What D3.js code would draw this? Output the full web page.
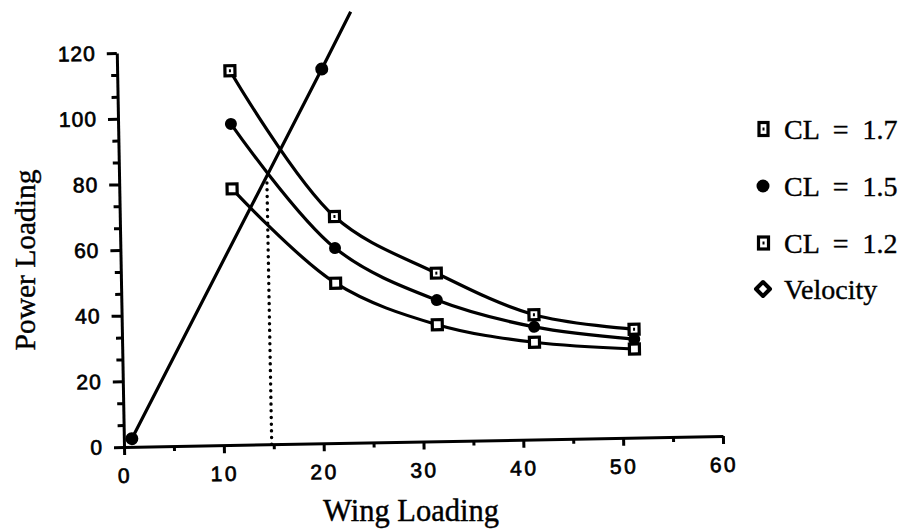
<!DOCTYPE html>
<html>
<head>
<meta charset="utf-8">
<script src="https://cdn.jsdelivr.net/npm/d3@7"></script>
<style>
  html, body { margin: 0; padding: 0; background: #fff; }
  svg { display: block; }
</style>
</head>
<body>
<svg id="chart" width="917" height="531"></svg>
<script>
// ---- data ----
const wingLoading = [11.3, 21.5, 31.6, 41.3, 51.3];
const cl17 = [114, 69, 51.2, 38, 33];
const cl15 = [97.8, 59.4, 43, 34.3, 30];
const cl12 = [78, 48.7, 35.5, 29.6, 27];
const velocityX = [0.8, 20.5, 23.5];
const velocityY = [2.5, 114, 131.3];
const dropX = 14.8;      // dotted guide: wing loading
const dropY = 80.5;      // dotted guide: top (intersection)
const xTicks = [0, 10, 20, 30, 40, 50, 60];
const yTicks = [0, 20, 40, 60, 80, 100, 120];
const xMinor = [5, 15, 25, 35, 45, 55];
const legendLabels = ["CL = 1.7", "CL = 1.5", "CL = 1.2", "Velocity"];

// ---- layout ----
const svg = d3.select("#chart");
const ox = 124, oy = 447;
const x = d3.scaleLinear().domain([0, 60]).range([ox, ox + 599]);
const y = d3.scaleLinear().domain([0, 120]).range([oy, oy - 394]);
const yMinor = d3.range(0, 120, 20 / 3).filter(v => Math.abs(v / 20 - Math.round(v / 20)) > 1e-6);

const g = svg.append("g").attr("transform", `rotate(-1.05, ${ox}, ${oy})`);

const tickFont = "'Liberation Sans', Arial, sans-serif";
const serif = "'Liberation Serif', 'Times New Roman', serif";

// y axis
const yAxis = g.append("g").attr("transform", `translate(${ox},0)`)
  .call(d3.axisLeft(y).tickValues(yTicks).tickSize(10).tickSizeOuter(0).tickPadding(11));
yAxis.select(".domain").attr("stroke", "#000").attr("stroke-width", 3);
yAxis.selectAll(".tick line").attr("stroke-width", 3);
yAxis.selectAll("text").attr("font-family", tickFont).attr("font-size", 21)
  .attr("letter-spacing", 1).attr("fill", "#000").attr("stroke", "#000").attr("stroke-width", 0.7);
const yMin = g.append("g").attr("transform", `translate(${ox},0)`)
  .call(d3.axisLeft(y).tickValues(yMinor).tickSize(6).tickFormat(""));
yMin.select(".domain").remove();
yMin.selectAll(".tick line").attr("stroke-width", 3);

// x axis
const xAxis = g.append("g").attr("transform", `translate(0,${oy})`)
  .call(d3.axisBottom(x).tickValues(xTicks).tickSize(8).tickSizeOuter(0).tickPadding(13));
xAxis.select(".domain").attr("stroke", "#000").attr("stroke-width", 3);
xAxis.selectAll(".tick line").attr("stroke-width", 3);
xAxis.selectAll("text").attr("font-family", tickFont).attr("font-size", 21)
  .attr("letter-spacing", 2.5).attr("fill", "#000").attr("stroke", "#000").attr("stroke-width", 0.7);
const xMin = g.append("g").attr("transform", `translate(0,${oy})`)
  .call(d3.axisBottom(x).tickValues(xMinor).tickSize(5).tickFormat(""));
xMin.select(".domain").remove();
xMin.selectAll(".tick line").attr("stroke-width", 3);

// dotted guide
g.append("line")
  .attr("x1", x(dropX)).attr("x2", x(dropX))
  .attr("y1", y(0)).attr("y2", y(dropY))
  .attr("stroke", "#000").attr("stroke-width", 3.4)
  .attr("stroke-linecap", "round").attr("stroke-dasharray", "0.1,6.6");

// curves
const line = d3.line().x(d => x(d[0])).y(d => y(d[1])).curve(d3.curveCatmullRom.alpha(0.5));
const series = [cl17, cl15, cl12];
series.forEach(vals => {
  g.append("path").datum(wingLoading.map((w, i) => [w, vals[i]]))
    .attr("d", line).attr("fill", "none").attr("stroke", "#000").attr("stroke-width", 3.2);
});
// velocity line
const vPts = velocityX.map((v, i) => [v, velocityY[i]]);
g.append("path").datum(vPts)
  .attr("d", d3.line().x(d => x(d[0])).y(d => y(d[1])))
  .attr("fill", "none").attr("stroke", "#000").attr("stroke-width", 3.2);

// markers
function square(sel, cx, cy, w, h, dot) {
  sel.append("rect").attr("x", cx - w / 2).attr("y", cy - h / 2).attr("width", w).attr("height", h)
    .attr("fill", "#fff").attr("stroke", "#000").attr("stroke-width", 3.2);
  if (dot) sel.append("rect").attr("x", cx - 1).attr("y", cy - 1.5).attr("width", 2).attr("height", 3).attr("fill", "#000");
}
wingLoading.forEach((w, i) => {
  square(g, x(w), y(cl17[i]), 10, 10, true);
  g.append("circle").attr("cx", x(w)).attr("cy", y(cl15[i])).attr("r", 6).attr("fill", "#000");
  square(g, x(w), y(cl12[i]), 10, 10, false);
});
vPts.filter(d => d[1] <= 120).forEach(d => {
  g.append("circle").attr("cx", x(d[0])).attr("cy", y(d[1])).attr("r", 6.5).attr("fill", "#000");
});

// axis titles
svg.append("text").attr("x", 411).attr("y", 521).attr("text-anchor", "middle")
  .attr("font-family", serif).attr("font-size", 30.5).attr("fill", "#000")
  .attr("stroke", "#000").attr("stroke-width", 0.4).text("Wing Loading");
svg.append("text").attr("transform", "translate(35,260) rotate(-90)").attr("text-anchor", "middle")
  .attr("font-family", serif).attr("font-size", 29.5).attr("fill", "#000")
  .attr("stroke", "#000").attr("stroke-width", 0.4).text("Power Loading");

// legend
const legY = [129, 186, 243, 289];
const lg = svg.append("g");
legendLabels.forEach((lab, i) => {
  lg.append("text").attr("x", 784).attr("y", legY[i]).attr("dy", "0.35em")
    .attr("font-family", serif).attr("font-size", 28).attr("word-spacing", 7)
    .attr("fill", "#000").attr("stroke", "#000").attr("stroke-width", 0.4).text(lab);
});
square(lg, 763.5, legY[0], 9, 13, true);
lg.append("circle").attr("cx", 763).attr("cy", legY[1]).attr("r", 6.5).attr("fill", "#000");
square(lg, 763.5, legY[2], 10, 12, true);
lg.append("path")
  .attr("d", `M763,${legY[3] - 7} L770,${legY[3]} L763,${legY[3] + 7} L756,${legY[3]} Z`)
  .attr("fill", "#fff").attr("stroke", "#000").attr("stroke-width", 4).attr("stroke-linejoin", "round");
</script>
</body>
</html>
